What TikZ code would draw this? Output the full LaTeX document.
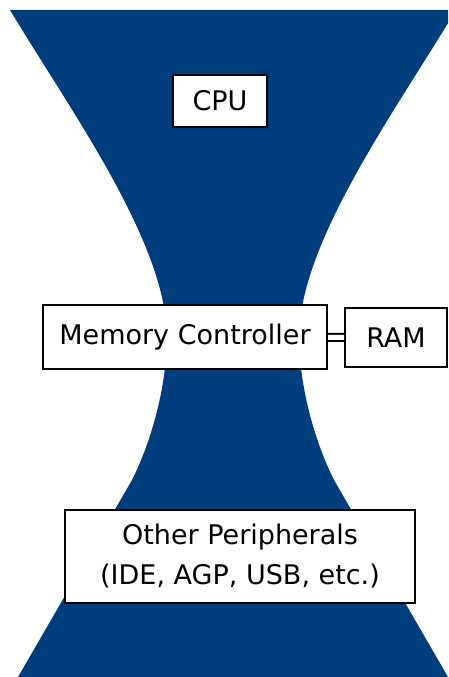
\documentclass[tikz,border=0pt]{standalone}
\usepackage{fontspec}
\setmainfont{DejaVu Sans}
\definecolor{busblue}{RGB}{0,61,125}
\tikzset{unit/.style={draw=black, line width=2pt, fill=white, inner sep=0pt,
    font=\fontsize{27}{40}\selectfont, align=center}}

\begin{document}
\begin{tikzpicture}[x=1pt, y=-1pt]
    \useasboundingbox (0,0) rectangle (448,677);
    \begin{scope}
        \clip (0,0) rectangle (448,677);
        % hourglass
        \fill[busblue] (10,10) .. controls (70,110) and (165,240) .. (167,335)
            .. controls (167,385) and (152,440) .. (132,480) -- (18,677) -- (448,677) -- (334,480)
            .. controls (314,440) and (299,385) .. (299,335)
            .. controls (301,240) and (396,110) .. (456,10) -- cycle;
    \end{scope}
    \node[unit, minimum width=94pt, minimum height=52pt] (cpu) at (220,101) {CPU};
    \node[unit, minimum width=284pt, minimum height=64pt] (memctrl) at (185,337) {Memory Controller};
    \node[unit, minimum width=102pt, minimum height=59pt] (ram) at (396,337.5) {RAM};
    \node[unit, minimum width=350pt, minimum height=93pt] (periph) at (240,556.5) {Other Peripherals\\(IDE, AGP, USB, etc.)};
    \draw[line width=2pt, double distance=5pt] (memctrl) -- (ram);
\end{tikzpicture}
\end{document}
